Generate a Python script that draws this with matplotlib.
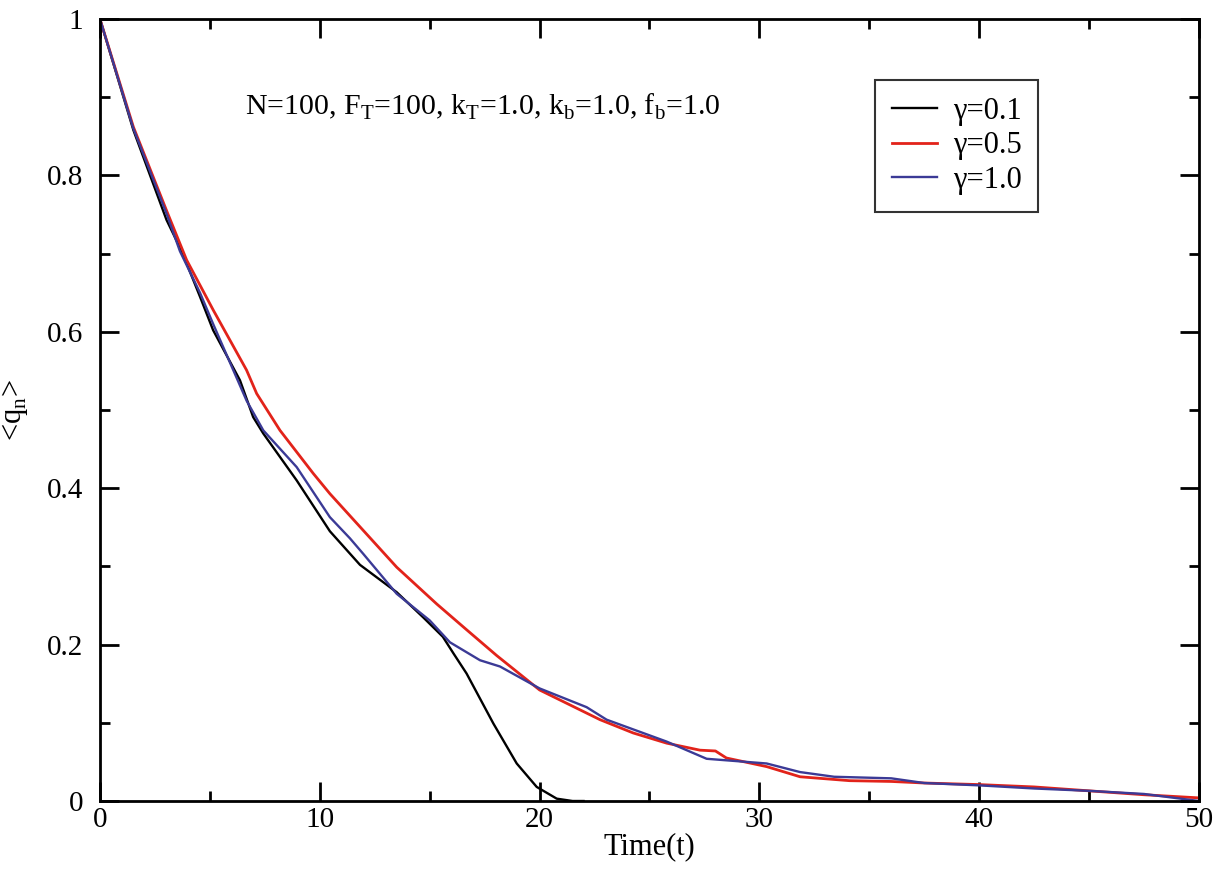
import matplotlib
matplotlib.use("Agg")
import matplotlib.pyplot as plt
from matplotlib.ticker import MultipleLocator

plt.rcParams['font.family'] = ['Liberation Serif', 'DejaVu Serif']
plt.rcParams['mathtext.fontset'] = 'custom'
plt.rcParams['mathtext.rm'] = 'Liberation Serif'

# values
t_g01 = [0, 1.52, 3.03, 3.72, 4.55, 5.15, 6.37, 6.97, 7.43, 8.95, 10.46, 11.83, 13.5,
         14.7, 15.6, 16.1, 16.68, 17.9, 18.96, 19.87, 20.78, 21.5, 22.0]
q_g01 = [1.0, 0.858, 0.743, 0.703, 0.645, 0.602, 0.538, 0.491, 0.470, 0.410, 0.345, 0.302, 0.267,
         0.235, 0.210, 0.188, 0.163, 0.099, 0.048, 0.018, 0.003, 0.0, 0.0]

t_g05 = [0, 1.52, 3.03, 3.94, 5.15, 6.67, 7.13, 8.19, 9.70, 10.46, 11.98, 13.5, 15.32,
         16.68, 18.05, 20.0, 22.75, 24.26, 25.78, 27.3, 28.0, 28.5, 30.33, 31.85,
         34.1, 36.0, 37.5, 40.0, 42.5, 45.0, 47.5, 50.0]
q_g05 = [1.0, 0.862, 0.755, 0.692, 0.628, 0.551, 0.521, 0.474, 0.419, 0.393, 0.346, 0.299, 0.252,
         0.219, 0.186, 0.142, 0.104, 0.087, 0.074, 0.065, 0.064, 0.055, 0.044, 0.031,
         0.026, 0.025, 0.023, 0.021, 0.018, 0.013, 0.008, 0.004]

t_g10 = [0, 1.52, 3.03, 3.64, 4.55, 5.15, 6.67, 7.43, 8.95, 10.46, 11.37, 11.98, 13.5, 15.0,
         15.92, 17.29, 18.2, 20.0, 22.14, 23.05, 25.78, 27.6, 30.33, 31.85, 33.4, 36.0,
         37.5, 40.0, 42.5, 45.0, 47.5, 50.0]
q_g10 = [1.0, 0.860, 0.751, 0.703, 0.650, 0.610, 0.512, 0.474, 0.427, 0.363, 0.336, 0.316, 0.265, 0.231,
         0.203, 0.180, 0.172, 0.144, 0.120, 0.104, 0.076, 0.054, 0.048, 0.037, 0.031, 0.029,
         0.023, 0.020, 0.016, 0.013, 0.009, 0.0]

x_ticks = [0, 10, 20, 30, 40, 50]
y_ticks = [0, 0.2, 0.4, 0.6, 0.8, 1.0]
y_tick_labels = ['0', '0.2', '0.4', '0.6', '0.8', '1']

fig = plt.figure(figsize=(12.31, 8.81), dpi=100)
ax = fig.add_axes([0.0812, 0.0908, 0.8928, 0.8876])

ax.plot(t_g01, q_g01, color='black', lw=1.7, label='\u03b3=0.1')
ax.plot(t_g05, q_g05, color='#e2231a', lw=2.0, label='\u03b3=0.5')
ax.plot(t_g10, q_g10, color='#3b3a96', lw=1.7, label='\u03b3=1.0')

ax.set_xlim(0, 50)
ax.set_ylim(0, 1)
ax.set_xticks(x_ticks)
ax.set_xticklabels([str(v) for v in x_ticks])
ax.set_yticks(y_ticks)
ax.set_yticklabels(y_tick_labels)
ax.xaxis.set_minor_locator(MultipleLocator(5))
ax.yaxis.set_minor_locator(MultipleLocator(0.1))
ax.tick_params(which='both', direction='in', top=True, right=True, width=2, labelsize=21)
ax.tick_params(which='major', length=14)
ax.tick_params(which='minor', length=7)
ax.tick_params(axis='y', which='major', pad=12)
ax.tick_params(axis='x', which='major', pad=4)
for s in ax.spines.values():
    s.set_linewidth(2)

ax.set_xlabel('Time(t)', fontsize=22, labelpad=0)
ax.set_ylabel(r'<q$_\mathregular{n}$>', fontsize=22)
ax.yaxis.set_label_coords(-0.064, 0.5)

ax.text(0.132, 0.887, r'N=100, F$_\mathregular{T}$=100, k$_\mathregular{T}$=1.0, '
        r'k$_\mathregular{b}$=1.0, f$_\mathregular{b}$=1.0',
        transform=ax.transAxes, fontsize=21.5, va='center')

leg = ax.legend(loc='upper left', bbox_to_anchor=(0.705, 0.922), fontsize=22,
                frameon=True, fancybox=False, handlelength=1.5, borderpad=0.55,
                labelspacing=0.18, handletextpad=0.5, borderaxespad=0)
leg.get_frame().set_edgecolor('black')
leg.get_frame().set_linewidth(1.5)

fig.savefig('out.png', dpi=100)
